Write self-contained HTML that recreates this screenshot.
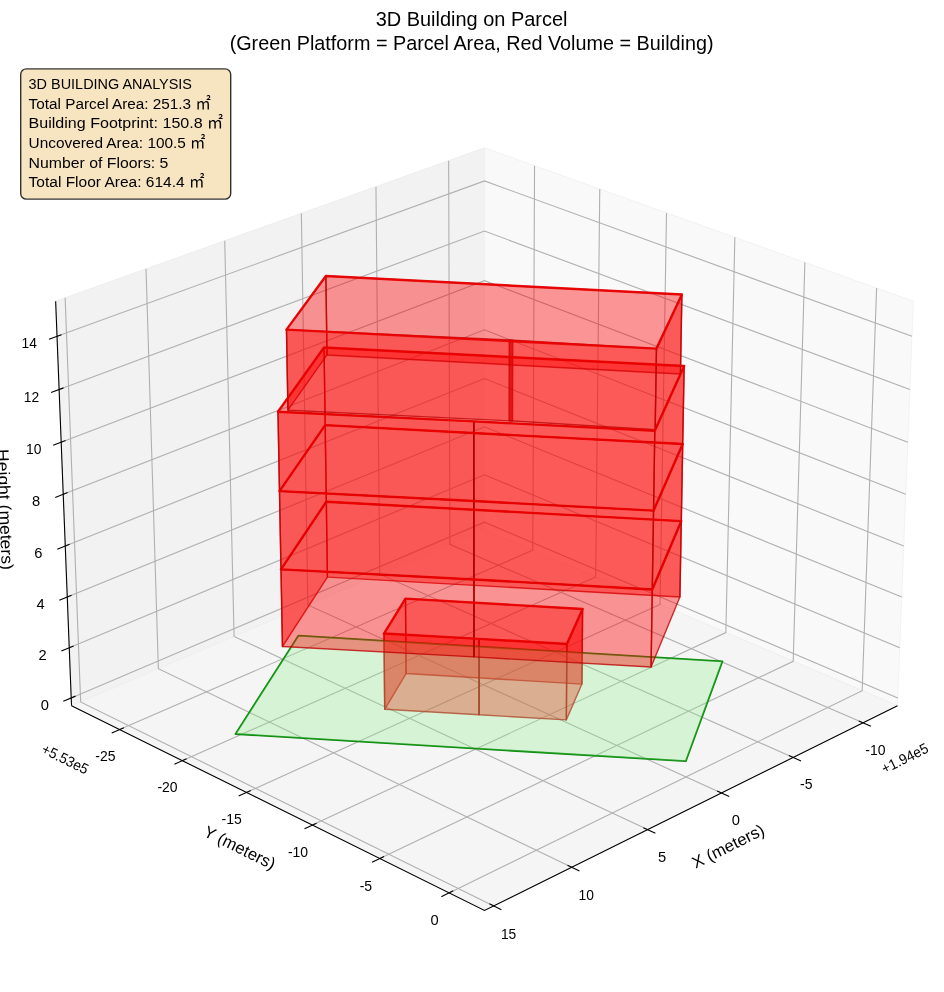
<!DOCTYPE html>
<html lang="en"><head><meta charset="utf-8"><title>3D Building on Parcel</title>
<style>html,body{margin:0;padding:0;background:#fff}svg{display:block}</style></head>
<body>
<svg width="944" height="992" viewBox="0 0 944 992">
<rect width="944" height="992" fill="#fff"/>
<g stroke-linejoin="round">
<polygon points="71.53,705.76 484.50,529.56 484.50,147.85 55.65,301.15" fill="#f2f2f2" stroke="#ebebeb" stroke-width="0.8"/>
<polygon points="484.50,529.56 897.47,705.76 913.35,301.15 484.50,147.85" fill="#f9f9f9" stroke="#efefef" stroke-width="0.8"/>
<polygon points="71.53,705.76 484.50,910.48 897.47,705.76 484.50,529.56" fill="#f5f5f5" stroke="#ededed" stroke-width="0.8"/>
</g>
<g stroke="#b0b0b0" stroke-width="1.11" fill="none" stroke-linecap="butt">
<polyline points="863.04,722.83 449.89,544.33 448.65,160.67"/>
<polyline points="793.18,757.46 379.77,574.25 375.96,186.65"/>
<polyline points="721.40,793.04 307.86,604.93 301.35,213.32"/>
<polyline points="647.61,829.62 234.08,636.41 224.73,240.71"/>
<polyline points="571.72,867.24 158.37,668.71 146.01,268.84"/>
<polyline points="493.66,905.94 80.64,701.88 65.13,297.76"/>
<polyline points="119.60,729.59 532.80,550.17 534.54,165.74"/>
<polyline points="182.27,760.66 595.70,577.01 599.75,189.05"/>
<polyline points="246.49,792.49 660.03,604.45 666.50,212.91"/>
<polyline points="312.32,825.12 725.85,632.54 734.85,237.34"/>
<polyline points="379.80,858.58 793.21,661.28 804.87,262.37"/>
<polyline points="449.02,892.89 862.17,690.70 876.60,288.01"/>
<polyline points="71.22,697.96 484.50,522.19 897.78,697.96"/>
<polyline points="69.25,647.78 484.50,474.74 899.75,647.78"/>
<polyline points="67.27,597.11 484.50,426.86 901.73,597.11"/>
<polyline points="65.26,545.96 484.50,378.56 903.74,545.96"/>
<polyline points="63.23,494.31 484.50,329.83 905.77,494.31"/>
<polyline points="61.18,442.16 484.50,280.65 907.82,442.16"/>
<polyline points="59.12,389.50 484.50,231.03 909.88,389.50"/>
<polyline points="57.03,336.33 484.50,180.96 911.97,336.33"/>
</g>
<polygon points="235.50,734.00 685.80,761.20 722.40,661.40 298.40,635.70" fill="none" stroke="#149014" stroke-width="1.85" stroke-linejoin="round"/>
<g fill="#ff0000" fill-opacity="0.4" stroke="#bc0000" stroke-opacity="0.78" stroke-width="1.4" stroke-linejoin="round">
<polygon points="581.91,684.09 406.04,673.54 405.49,598.65 582.60,608.96"/>
<polygon points="406.04,673.54 384.70,709.27 383.98,633.56 405.49,598.65"/>
<polygon points="566.33,719.90 581.91,684.09 582.60,608.96 566.92,643.94"/>
<polygon points="384.70,709.27 479.13,714.76 479.09,638.92 383.98,633.56"/>
<polygon points="479.13,714.76 566.33,719.90 566.92,643.94 479.09,638.92"/>
</g>
<g stroke="#a80000" stroke-opacity="0.75" stroke-width="1.5" fill="none">
<line x1="479.13" y1="714.76" x2="479.09" y2="638.92"/>
</g>
<polygon points="235.50,734.00 685.80,761.20 722.40,661.40 298.40,635.70" fill="#90ee90" fill-opacity="0.3" stroke="#008000" stroke-opacity="0.3" stroke-width="1.2" stroke-linejoin="round"/>
<g fill="#ff0000" fill-opacity="0.4" stroke="#bc0000" stroke-opacity="0.78" stroke-width="1.4" stroke-linejoin="round">
<polygon points="679.90,597.00 327.43,577.12 326.31,501.68 681.30,521.08"/>
<polygon points="681.30,521.08 326.31,501.68 325.19,425.17 682.72,444.06"/>
<polygon points="327.43,577.12 282.45,646.50 280.98,569.37 326.31,501.68"/>
<polygon points="682.72,444.06 325.19,425.17 324.04,347.55 684.15,365.93"/>
<polygon points="326.31,501.68 280.98,569.37 279.48,491.11 325.19,425.17"/>
<polygon points="651.06,667.05 679.90,597.00 681.30,521.08 652.28,589.43"/>
<polygon points="325.19,425.17 279.48,491.11 277.97,411.69 324.04,347.55"/>
<polygon points="680.45,373.96 327.01,354.97 325.87,276.02 681.88,294.45"/>
<polygon points="652.28,589.43 681.30,521.08 682.72,444.06 653.53,510.66"/>
<polygon points="282.45,646.50 474.03,656.91 473.96,579.53 280.98,569.37"/>
<polygon points="474.03,656.91 651.06,667.05 652.28,589.43 473.96,579.53"/>
<polygon points="653.53,510.66 682.72,444.06 684.15,365.93 654.79,430.71"/>
<polygon points="327.01,354.97 287.94,410.21 286.47,329.65 325.87,276.02"/>
<polygon points="280.98,569.37 473.96,579.53 473.88,501.01 279.48,491.11"/>
<polygon points="473.96,579.53 652.28,589.43 653.53,510.66 473.88,501.01"/>
<polygon points="279.48,491.11 473.88,501.01 473.80,421.33 277.97,411.69"/>
<polygon points="655.15,429.75 680.45,373.96 681.88,294.45 656.43,348.63"/>
<polygon points="473.88,501.01 653.53,510.66 654.79,430.71 473.80,421.33"/>
<polygon points="287.94,410.21 512.54,420.98 512.75,340.11 286.47,329.65"/>
<polygon points="509.09,420.80 655.15,429.75 656.43,348.63 509.27,339.94"/>
</g>
<g stroke="#a80000" stroke-opacity="0.75" stroke-width="1.5" fill="none">
<line x1="474.03" y1="656.91" x2="473.96" y2="579.53"/>
<line x1="473.96" y1="579.53" x2="473.88" y2="501.01"/>
<line x1="473.88" y1="501.01" x2="473.80" y2="421.33"/>
<line x1="510.82" y1="420.87" x2="511.02" y2="340.00" stroke="#d80000" stroke-opacity="0.6" stroke-width="2.6"/>
</g>
<g fill="none" stroke="#e80000" stroke-opacity="0.92" stroke-width="2.4" stroke-linejoin="round">
<polygon points="383.98,633.56 479.09,638.92 566.92,643.94 582.60,608.96 405.49,598.65"/>
<polygon points="280.98,569.37 473.96,579.53 652.28,589.43 681.30,521.08 326.31,501.68"/>
<polygon points="279.48,491.11 473.88,501.01 653.53,510.66 682.72,444.06 325.19,425.17"/>
<polygon points="277.97,411.69 473.80,421.33 654.79,430.71 684.15,365.93 324.04,347.55"/>
<polygon points="286.47,329.65 656.43,348.63 681.88,294.45 325.87,276.02"/>
</g>
<g stroke="#000" stroke-width="1.11" fill="none" stroke-linecap="butt">
<line x1="71.53" y1="705.76" x2="55.65" y2="301.15"/>
<polyline points="71.53,705.76 484.50,910.48 897.47,705.76" stroke-linejoin="miter"/>
<line x1="870.93" y1="726.24" x2="858.73" y2="720.96"/>
<line x1="801.04" y1="760.94" x2="788.88" y2="755.55"/>
<line x1="729.23" y1="796.61" x2="717.12" y2="791.10"/>
<line x1="655.40" y1="833.27" x2="643.35" y2="827.64"/>
<line x1="579.47" y1="870.97" x2="567.49" y2="865.21"/>
<line x1="501.37" y1="909.75" x2="489.44" y2="903.86"/>
<line x1="111.71" y1="733.01" x2="123.91" y2="727.72"/>
<line x1="174.41" y1="764.15" x2="186.57" y2="758.75"/>
<line x1="238.67" y1="796.05" x2="250.77" y2="790.55"/>
<line x1="304.52" y1="828.76" x2="316.58" y2="823.14"/>
<line x1="372.04" y1="862.28" x2="384.04" y2="856.56"/>
<line x1="441.29" y1="896.67" x2="453.24" y2="890.82"/>
<line x1="63.31" y1="701.33" x2="75.55" y2="696.12"/>
<line x1="61.32" y1="651.09" x2="73.59" y2="645.97"/>
<line x1="59.30" y1="600.36" x2="71.62" y2="595.34"/>
<line x1="57.27" y1="549.15" x2="69.62" y2="544.22"/>
<line x1="55.22" y1="497.44" x2="67.61" y2="492.60"/>
<line x1="53.15" y1="445.23" x2="65.57" y2="440.49"/>
<line x1="51.06" y1="392.50" x2="63.52" y2="387.86"/>
<line x1="48.95" y1="339.26" x2="61.45" y2="334.72"/>
</g>
<g font-family="&quot;Liberation Sans&quot;, &quot;Noto Sans CJK JP&quot;, sans-serif" fill="#000">
<text transform="translate(44.9 704.8) rotate(0)" y="5.29" font-size="14.7" text-anchor="middle">0</text>
<text transform="translate(42.7 654.6) rotate(0)" y="5.29" font-size="14.7" text-anchor="middle">2</text>
<text transform="translate(40.5 603.9) rotate(0)" y="5.29" font-size="14.7" text-anchor="middle">4</text>
<text transform="translate(38.3 552.8) rotate(0)" y="5.29" font-size="14.7" text-anchor="middle">6</text>
<text transform="translate(36.1 501.1) rotate(0)" y="5.29" font-size="14.7" text-anchor="middle">8</text>
<text transform="translate(33.8 449.0) rotate(0)" y="5.29" font-size="14.7" text-anchor="middle" textLength="15.4" lengthAdjust="spacingAndGlyphs">10</text>
<text transform="translate(31.5 396.3) rotate(0)" y="5.29" font-size="14.7" text-anchor="middle" textLength="15.4" lengthAdjust="spacingAndGlyphs">12</text>
<text transform="translate(29.2 343.1) rotate(0)" y="5.29" font-size="14.7" text-anchor="middle" textLength="15.4" lengthAdjust="spacingAndGlyphs">14</text>
<text transform="translate(105.4 755.9) rotate(0)" y="5.29" font-size="14.7" text-anchor="middle" textLength="20.2" lengthAdjust="spacingAndGlyphs">-25</text>
<text transform="translate(167.5 787.2) rotate(0)" y="5.29" font-size="14.7" text-anchor="middle" textLength="20.2" lengthAdjust="spacingAndGlyphs">-20</text>
<text transform="translate(231.6 819.2) rotate(0)" y="5.29" font-size="14.7" text-anchor="middle" textLength="20.2" lengthAdjust="spacingAndGlyphs">-15</text>
<text transform="translate(298.0 852.2) rotate(0)" y="5.29" font-size="14.7" text-anchor="middle" textLength="20.2" lengthAdjust="spacingAndGlyphs">-10</text>
<text transform="translate(365.9 885.8) rotate(0)" y="5.29" font-size="14.7" text-anchor="middle" textLength="12.5" lengthAdjust="spacingAndGlyphs">-5</text>
<text transform="translate(434.5 920.1) rotate(0)" y="5.29" font-size="14.7" text-anchor="middle">0</text>
<text transform="translate(508.6 933.6) rotate(0)" y="5.29" font-size="14.7" text-anchor="middle" textLength="15.4" lengthAdjust="spacingAndGlyphs">15</text>
<text transform="translate(586.2 894.7) rotate(0)" y="5.29" font-size="14.7" text-anchor="middle" textLength="15.4" lengthAdjust="spacingAndGlyphs">10</text>
<text transform="translate(662.0 857.0) rotate(0)" y="5.29" font-size="14.7" text-anchor="middle">5</text>
<text transform="translate(735.8 819.4) rotate(0)" y="5.29" font-size="14.7" text-anchor="middle">0</text>
<text transform="translate(806.3 783.5) rotate(0)" y="5.29" font-size="14.7" text-anchor="middle" textLength="12.5" lengthAdjust="spacingAndGlyphs">-5</text>
<text transform="translate(875.4 749.7) rotate(0)" y="5.29" font-size="14.7" text-anchor="middle" textLength="20.2" lengthAdjust="spacingAndGlyphs">-10</text>
<text transform="translate(65.3 758.8) rotate(26.4)" y="5.29" font-size="14.7" text-anchor="middle" textLength="50.1" lengthAdjust="spacingAndGlyphs">+5.53e5</text>
<text transform="translate(904.7 758.1) rotate(-26.4)" y="5.29" font-size="14.7" text-anchor="middle" textLength="50.1" lengthAdjust="spacingAndGlyphs">+1.94e5</text>
<text transform="translate(728.7 847.3) rotate(-26.4)" y="4.50" font-size="16.67" text-anchor="middle" textLength="78.5" lengthAdjust="spacingAndGlyphs">X (meters)</text>
<text transform="translate(239.2 848.7) rotate(26.4)" y="4.50" font-size="16.67" text-anchor="middle" textLength="77.7" lengthAdjust="spacingAndGlyphs">Y (meters)</text>
<text transform="translate(3.9 509.5) rotate(87.8)" y="4.50" font-size="16.67" text-anchor="middle" textLength="120.7" lengthAdjust="spacingAndGlyphs">Height (meters)</text>
<text x="471.6" y="25.6" font-size="19.7" text-anchor="middle" textLength="191.9" lengthAdjust="spacingAndGlyphs">3D Building on Parcel</text>
<text x="471.6" y="49.6" font-size="19.7" text-anchor="middle" textLength="483.9" lengthAdjust="spacingAndGlyphs">(Green Platform = Parcel Area, Red Volume = Building)</text>
</g>
<rect x="20.7" y="68.9" width="210" height="130.2" rx="5.6" ry="5.6" fill="#f5deb3" fill-opacity="0.8" stroke="#000" stroke-opacity="0.8" stroke-width="1.39"/>
<g font-family="&quot;Liberation Sans&quot;, &quot;Noto Sans CJK JP&quot;, sans-serif" fill="#000" font-size="15.5">
<text x="28.6" y="89.2" textLength="163.4" lengthAdjust="spacingAndGlyphs">3D BUILDING ANALYSIS</text>
<text x="28.6" y="108.8" textLength="182.1" lengthAdjust="spacingAndGlyphs">Total Parcel Area: 251.3 ㎡</text>
<text x="28.6" y="128.4" textLength="194.6" lengthAdjust="spacingAndGlyphs">Building Footprint: 150.8 ㎡</text>
<text x="28.6" y="148.0" textLength="176.9" lengthAdjust="spacingAndGlyphs">Uncovered Area: 100.5 ㎡</text>
<text x="28.6" y="167.6" textLength="139.8" lengthAdjust="spacingAndGlyphs">Number of Floors: 5</text>
<text x="28.6" y="187.2" textLength="175.8" lengthAdjust="spacingAndGlyphs">Total Floor Area: 614.4 ㎡</text>
</g>
</svg>
</body></html>
